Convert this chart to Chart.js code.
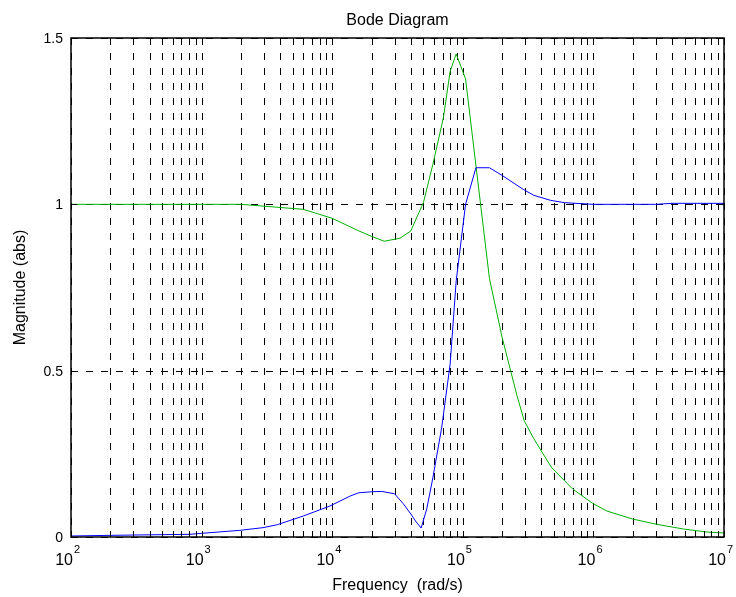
<!DOCTYPE html>
<html>
<head>
<meta charset="utf-8">
<title>Bode Diagram</title>
<script src="https://cdn.jsdelivr.net/npm/chart.js@4.4.0/dist/chart.umd.min.js"></script>
<style>
  html, body { margin: 0; padding: 0; background: #fff; }
  #wrap { width: 736px; height: 597px; }
</style>
</head>
<body>
<div id="wrap"><canvas id="bode" width="736" height="597"></canvas></div>
<script>
// valores (frequencia em rad/s, magnitude em abs)
var freqAzul = [100, 200, 500, 810, 1000, 1960, 2950, 3800, 6000, 9600, 13700, 16000, 20000, 24000, 30000, 35000, 40000, 44000, 48000, 53000, 59000, 69000, 80000, 89000, 105000, 126000, 160000, 200000, 290000, 350000, 470000, 600000, 1000000, 3000000, 4000000, 10000000];
var magAzul = [0.003, 0.005, 0.007, 0.008, 0.011, 0.02, 0.028, 0.037, 0.063, 0.093, 0.123, 0.133, 0.136, 0.137, 0.13, 0.1, 0.069, 0.045, 0.027, 0.085, 0.178, 0.33, 0.52, 0.77, 1.0, 1.11, 1.11, 1.087, 1.045, 1.027, 1.012, 1.005, 1.0, 1.0, 1.003, 1.003];

var freqVerde = [100, 1000, 2000, 6000, 10000, 16000, 20000, 25000, 33000, 40000, 50000, 59000, 71000, 80000, 89000, 105000, 160000, 200000, 260000, 295000, 340000, 390000, 480000, 690000, 980000, 1270000, 2000000, 2970000, 4900000, 7400000, 10000000];
var magVerde = [1.0, 1.0, 1.0, 0.985, 0.958, 0.92, 0.904, 0.889, 0.898, 0.92, 1.006, 1.12, 1.26, 1.40, 1.452, 1.377, 0.777, 0.6, 0.425, 0.35, 0.304, 0.265, 0.208, 0.145, 0.102, 0.078, 0.054, 0.039, 0.024, 0.015, 0.012];

// rotulos dos eixos
var expoentes = [2, 3, 4, 5, 6, 7];          // 10^2 ... 10^7
var multiplicadores = [1, 2, 3, 4, 5, 6, 7, 8, 9];
var yTicks = [0, 0.5, 1, 1.5];
var yRotulos = ["0", "0.5", "1", "1.5"];

var fonte = '"Liberation Sans", Arial, sans-serif';

// linhas de grade verticais em 1..9 x 10^n
var xGrade = [];
for (var i = 0; i < expoentes.length; i++) {
    for (var j = 0; j < multiplicadores.length; j++) {
        var v = multiplicadores[j] * Math.pow(10, expoentes[i]);
        if (v <= 1e7) xGrade.push(v);
    }
}

function pontos(fx, my) {
    return fx.map(function(f, k) { return { x: f, y: my[k] }; });
}

const eixosBode = {
    id: "eixosBode",
    beforeDatasetsDraw: function(chart) {
        var ctx = chart.ctx, a = chart.chartArea, x = chart.scales.x, y = chart.scales.y;
        ctx.save();
        ctx.strokeStyle = "#000";
        ctx.lineWidth = 1;
        ctx.setLineDash([7, 8]);
        xGrade.forEach(function(v) {
            var px = Math.round(x.getPixelForValue(v)) + 0.5;
            ctx.beginPath();
            ctx.moveTo(px, a.top);
            ctx.lineTo(px, a.bottom);
            ctx.stroke();
        });
        yTicks.forEach(function(v) {
            var py = Math.round(y.getPixelForValue(v)) + 0.5;
            ctx.beginPath();
            ctx.moveTo(a.left, py);
            ctx.lineTo(a.right, py);
            ctx.stroke();
        });
        ctx.restore();
    },
    afterDraw: function(chart) {
        var ctx = chart.ctx, a = chart.chartArea, x = chart.scales.x, y = chart.scales.y;
        ctx.save();
        ctx.strokeStyle = "#000";
        ctx.lineWidth = 1.5;
        ctx.setLineDash([]);
        ctx.strokeRect(a.left, a.top, a.right - a.left, a.bottom - a.top);

        // marcas dos ticks (para dentro, como no Matlab)
        ctx.lineWidth = 1;
        xGrade.forEach(function(v) {
            var px = Math.round(x.getPixelForValue(v)) + 0.5;
            ctx.beginPath();
            ctx.moveTo(px, a.top); ctx.lineTo(px, a.top + 6);
            ctx.moveTo(px, a.bottom); ctx.lineTo(px, a.bottom - 6);
            ctx.stroke();
        });
        yTicks.forEach(function(v) {
            var py = Math.round(y.getPixelForValue(v)) + 0.5;
            ctx.beginPath();
            ctx.moveTo(a.left, py); ctx.lineTo(a.left + 6, py);
            ctx.moveTo(a.right, py); ctx.lineTo(a.right - 6, py);
            ctx.stroke();
        });

        ctx.fillStyle = "#000";
        // rotulos do eixo y
        ctx.font = "14px " + fonte;
        ctx.textAlign = "right";
        ctx.textBaseline = "middle";
        yTicks.forEach(function(v, k) {
            ctx.fillText(yRotulos[k], a.left - 8, y.getPixelForValue(v) + 1);
        });

        // rotulos do eixo x: 10 com expoente
        ctx.textBaseline = "alphabetic";
        expoentes.forEach(function(e) {
            var px = x.getPixelForValue(Math.pow(10, e));
            ctx.font = "16px " + fonte;
            ctx.textAlign = "right";
            ctx.fillText("10", px + 2, a.bottom + 28);
            ctx.font = "11px " + fonte;
            ctx.textAlign = "left";
            ctx.fillText(String(e), px + 3, a.bottom + 16);
        });

        // titulos
        var cx = (a.left + a.right) / 2;
        ctx.font = "16px " + fonte;
        ctx.textAlign = "center";
        ctx.fillText("Bode Diagram", cx, 25);
        ctx.fillText("Frequency  (rad/s)", cx, a.bottom + 53);
        ctx.translate(25, (a.top + a.bottom) / 2);
        ctx.rotate(-Math.PI / 2);
        ctx.fillText("Magnitude (abs)", 0, 0);
        ctx.restore();
    }
};

const config = {
    type: "line",
    data: {
        datasets: [
            {
                label: "azul",
                data: pontos(freqAzul, magAzul),
                borderColor: "#0000ff",
                borderWidth: 1,
                pointRadius: 0,
                tension: 0,
                fill: false
            },
            {
                label: "verde",
                data: pontos(freqVerde, magVerde),
                borderColor: "#00b000",
                borderWidth: 1,
                pointRadius: 0,
                tension: 0,
                fill: false
            }
        ]
    },
    options: {
        responsive: false,
        animation: false,
        devicePixelRatio: 1,
        layout: { padding: { left: 71, right: 12, top: 38, bottom: 60 } },
        plugins: {
            legend: { display: false },
            title: { display: false },
            tooltip: { enabled: false }
        },
        scales: {
            x: { type: "logarithmic", min: 100, max: 1e7, display: false },
            y: { type: "linear", min: 0, max: 1.5, display: false }
        }
    },
    plugins: [eixosBode]
};

var grafico = new Chart(document.getElementById("bode"), config);
</script>
</body>
</html>
